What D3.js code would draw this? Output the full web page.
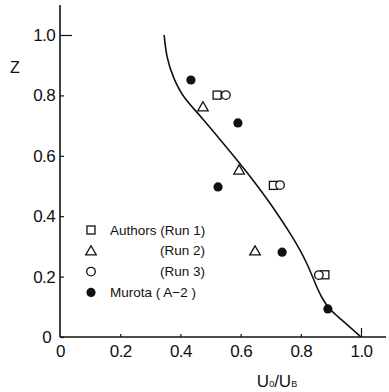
<!DOCTYPE html>
<html>
<head>
<meta charset="utf-8">
<script src="https://cdn.jsdelivr.net/npm/d3@7"></script>
<style>
  body { margin: 0; background: #fff; }
  svg { display: block; }
  text { font-family: "Liberation Sans", Arial, sans-serif; fill: #111; }
</style>
</head>
<body>
<script>
// data
var xTicks = [0, 0.2, 0.4, 0.6, 0.8, 1.0]
var yTicks = [0, 0.2, 0.4, 0.6, 0.8, 1.0]

var run1 = [[0.522, 0.801], [0.709, 0.502], [0.880, 0.206]]
var run2 = [[0.475, 0.762], [0.595, 0.553], [0.648, 0.285]]
var run3 = [[0.551, 0.801], [0.731, 0.503], [0.860, 0.205]]
var murota = [[0.435, 0.851], [0.591, 0.709], [0.525, 0.497], [0.738, 0.281], [0.890, 0.093]]

var curve = [
  [0.346, 1.0], [0.354, 0.924], [0.376, 0.858], [0.410, 0.791], [0.465, 0.735],
  [0.588, 0.586], [0.641, 0.520], [0.691, 0.454], [0.774, 0.331], [0.821, 0.245],
  [0.847, 0.179], [0.870, 0.128], [0.897, 0.089], [0.935, 0.058], [1.0, 0]
]

var legendItems = [
  {sym: "square", label: "Authors (Run 1)", dx: 0},
  {sym: "triangle", label: "(Run 2)", dx: 50},
  {sym: "circle", label: "(Run 3)", dx: 50},
  {sym: "dot", label: "Murota ( A\u22122 )", dx: 0}
]

var width = 389, height = 392

var x = d3.scaleLinear().domain([0, 1]).range([60, 361])
var y = d3.scaleLinear().domain([0, 1]).range([337, 35])

var svg = d3.select("body").append("svg")
  .attr("width", width)
  .attr("height", height)

// axis lines
svg.append("line")
  .attr("x1", x(0)).attr("x2", x(0))
  .attr("y1", y(0)).attr("y2", 5)
  .attr("stroke", "#111").attr("stroke-width", 1.6)
svg.append("line")
  .attr("x1", x(0)).attr("x2", 386)
  .attr("y1", y(0)).attr("y2", y(0))
  .attr("stroke", "#111").attr("stroke-width", 1.6)

// y axis, ticks pointing inwards
var yAxis = svg.append("g")
  .attr("transform", "translate(" + x(0) + ",0)")
  .call(d3.axisLeft(y).tickValues(yTicks)
    .tickSizeInner(-4).tickSizeOuter(0).tickPadding(5)
    .tickFormat(d => d === 0 ? "0" : d3.format(".1f")(d)))
yAxis.select(".domain").remove()
yAxis.selectAll("line").attr("stroke", "#111").attr("stroke-width", 1.2)
  .filter(d => d === 1).attr("x2", 12)
yAxis.selectAll("text")
  .style("font-size", "17px").style("letter-spacing", "-0.6px")
  .attr("fill", "#111")
  .filter(d => d === 0).attr("x", -9)

// x axis, ticks pointing up
var xAxis = svg.append("g")
  .attr("transform", "translate(0," + y(0) + ")")
  .call(d3.axisBottom(x).tickValues(xTicks)
    .tickSizeInner(-3).tickSizeOuter(0).tickPadding(8)
    .tickFormat(d => d === 0 ? "0" : d3.format(".1f")(d)))
xAxis.select(".domain").remove()
xAxis.selectAll("line").attr("stroke", "#111").attr("stroke-width", 1.2)
  .filter(d => d === 0).remove()
xAxis.selectAll("line").filter(d => d === 1).attr("y2", -9)
xAxis.selectAll("text")
  .style("font-size", "17px").style("letter-spacing", "-0.6px")
  .attr("fill", "#111")

// axis titles
svg.append("text")
  .attr("x", 10).attr("y", 73)
  .style("font-size", "16px")
  .text("Z")

var xt = svg.append("text")
  .attr("x", 277).attr("y", 387)
  .attr("text-anchor", "middle")
  .style("font-size", "17px")
xt.append("tspan").text("U")
xt.append("tspan").style("font-size", "9px").text("0")
xt.append("tspan").text("/U")
xt.append("tspan").style("font-size", "9px").text("B")

// fitted curve
var line = d3.line()
  .x(d => x(d[0]))
  .y(d => y(d[1]))
  .curve(d3.curveBasis)

svg.append("path")
  .datum(curve)
  .attr("d", line)
  .attr("fill", "none")
  .attr("stroke", "#111")
  .attr("stroke-width", 1.6)

// marker helper
function drawMarker(g, sym, cx, cy) {
  if (sym === "square") {
    g.append("rect")
      .attr("x", cx - 4).attr("y", cy - 4)
      .attr("width", 8).attr("height", 8)
      .attr("fill", "#fff").attr("stroke", "#111").attr("stroke-width", 1.3)
  } else if (sym === "triangle") {
    var s = d3.symbol().type(d3.symbolTriangle).size(48)
    g.append("path")
      .attr("d", s())
      .attr("transform", "translate(" + cx + "," + (cy + 1) + ")")
      .attr("fill", "#fff").attr("stroke", "#111").attr("stroke-width", 1.3)
  } else if (sym === "circle") {
    g.append("circle")
      .attr("cx", cx).attr("cy", cy).attr("r", 4.3)
      .attr("fill", "#fff").attr("stroke", "#111").attr("stroke-width", 1.3)
  } else {
    g.append("circle")
      .attr("cx", cx).attr("cy", cy).attr("r", 4.6)
      .attr("fill", "#111")
  }
}

var pts = svg.append("g")
run1.forEach(d => drawMarker(pts, "square", x(d[0]), y(d[1])))
run3.forEach(d => drawMarker(pts, "circle", x(d[0]), y(d[1])))
run2.forEach(d => drawMarker(pts, "triangle", x(d[0]), y(d[1])))
murota.forEach(d => drawMarker(pts, "dot", x(d[0]), y(d[1])))

// legend
var legend = svg.append("g")
legendItems.forEach(function(item, i) {
  var ly = 230 + i * 20.8
  drawMarker(legend, item.sym, 91, ly)
  legend.append("text")
    .attr("x", 110 + item.dx).attr("y", ly + 4.5)
    .style("font-size", "13.5px")
    .text(item.label)
})
</script>
</body>
</html>
